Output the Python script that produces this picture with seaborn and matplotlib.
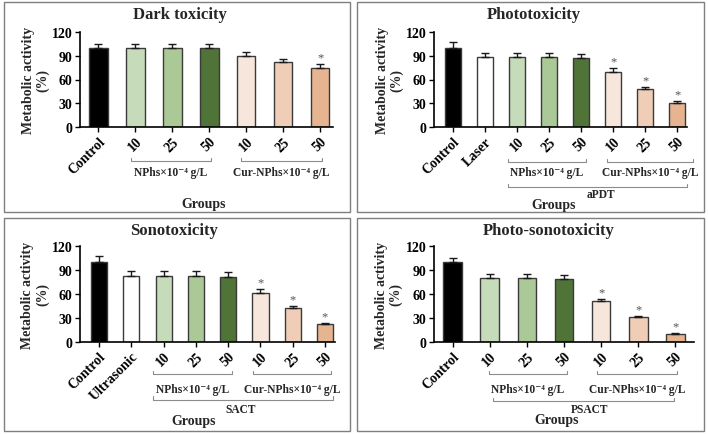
import matplotlib
matplotlib.use("Agg")
import matplotlib.pyplot as plt
import matplotlib.transforms as mtransforms
from matplotlib.patches import Rectangle
import seaborn as sns
import pandas as pd

sns.set_style("white")
plt.rcParams['font.family'] = ['Liberation Serif', 'DejaVu Serif']
plt.rcParams['font.weight'] = 'bold'

# ---------------- data ----------------
dark_keys = ["Control", "N10", "N25", "N50", "C10", "C25", "C50"]
dark_ticks = ["Control", "10", "25", "50", "10", "25", "50"]
dark_vals = [100, 100, 100, 100, 90, 82, 75]
dark_err = [5, 5, 5, 5, 5, 4, 4]
dark_sig = [False, False, False, False, False, False, True]

photo_keys = ["Control", "Laser", "N10", "N25", "N50", "C10", "C25", "C50"]
photo_ticks = ["Control", "Laser", "10", "25", "50", "10", "25", "50"]
photo_vals = [100, 88, 88, 88, 87, 70, 48, 30]
photo_err = [7, 6, 5.5, 5.5, 5.5, 5, 3, 2.5]
photo_sig = [False, False, False, False, False, True, True, True]

sono_keys = ["Control", "Ultrasonic", "N10", "N25", "N50", "C10", "C25", "C50"]
sono_ticks = ["Control", "Ultrasonic", "10", "25", "50", "10", "25", "50"]
sono_vals = [100, 82, 82, 82, 81, 61, 42, 22]
sono_err = [8, 7, 7, 7, 7, 5, 3, 2]
sono_sig = [False, False, False, False, False, True, True, True]

ps_keys = ["Control", "N10", "N25", "N50", "C10", "C25", "C50"]
ps_ticks = ["Control", "10", "25", "50", "10", "25", "50"]
ps_vals = [100, 80, 80, 79, 51, 31, 10]
ps_err = [5, 4.5, 4.5, 4.5, 3, 1.5, 1]
ps_sig = [False, False, False, False, True, True, True]

titles = ["Dark toxicity", "Phototoxicity", "Sonotoxicity", "Photo-sonotoxicity"]
nphs_label = "NPhs×10⁻⁴ g/L"
cur_label = "Cur-NPhs×10⁻⁴ g/L"

c_ctrl = "#000000"
c_white = "#ffffff"
greens = ["#c5e0b4", "#a9d18e", "#4e7d2e"]
peaches = ["#fbe5d6", "#f8cbad", "#f4b183"]

# ---------------- figure ----------------
W, H = 708, 435
fig = plt.figure(figsize=(W / 100, H / 100), dpi=100)

# panel borders (pixels)
for (x0, y0, x1, y1) in [(4, 3, 350, 213), (357, 3, 704, 213),
                         (4, 219, 350, 432), (357, 219, 704, 432)]:
    fig.patches.append(Rectangle((x0 / W, 1 - y1 / H), (x1 - x0) / W, (y1 - y0) / H,
                                 transform=fig.transFigure, fill=False,
                                 edgecolor="#7f7f7f", linewidth=1.0))


def px_rect(l, r, t, b):
    return [l / W, 1 - b / H, (r - l) / W, (b - t) / H]


panels = [
    dict(rect=px_rect(80, 333, 33, 128), keys=dark_keys, ticks=dark_ticks, vals=dark_vals,
         err=dark_err, sig=dark_sig, colors=[c_ctrl] + greens + peaches, xlim=(-0.5, 6.35),
         title=titles[0], tx=0.395, ty=1.19, ylx=-0.174,
         brackets=[(0.88, 3.05, -0.36, nphs_label, -0.47), (3.86, 6.05, -0.36, cur_label, -0.47)],
         outer=None, gx=2.85, gy=-0.81),
    dict(rect=px_rect(434, 687, 33, 128), keys=photo_keys, ticks=photo_ticks, vals=photo_vals,
         err=photo_err, sig=photo_sig, colors=[c_ctrl, c_white] + greens + peaches, xlim=(-0.6, 7.3),
         title=titles[1], tx=0.395, ty=1.19, ylx=-0.174,
         brackets=[(1.7, 4.15, -0.37, nphs_label, -0.47), (4.8, 7.5, -0.37, cur_label, -0.47)],
         outer=(1.7, 7.3, -0.63, "aPDT", 4.6, -0.705), gx=3.15, gy=-0.82),
    dict(rect=px_rect(80, 335, 247, 343), keys=sono_keys, ticks=sono_ticks, vals=sono_vals,
         err=sono_err, sig=sono_sig, colors=[c_ctrl, c_white] + greens + peaches, xlim=(-0.59, 7.31),
         title=titles[2], tx=0.37, ty=1.17, ylx=-0.176,
         brackets=[(1.67, 4.12, -0.333, nphs_label, -0.49), (4.78, 7.19, -0.333, cur_label, -0.49)],
         outer=(1.67, 7.25, -0.60, "SACT", 4.4, -0.70), gx=2.94, gy=-0.82),
    dict(rect=px_rect(434, 694, 247, 343), keys=ps_keys, ticks=ps_ticks, vals=ps_vals,
         err=ps_err, sig=ps_sig, colors=[c_ctrl] + greens + peaches, xlim=(-0.5, 6.5),
         title=titles[3], tx=0.44, ty=1.17, ylx=-0.174,
         brackets=[(0.97, 3.08, -0.333, nphs_label, -0.49), (3.9, 6.03, -0.333, cur_label, -0.49)],
         outer=(1.1, 5.97, -0.615, "PSACT", 3.7, -0.70), gx=2.81, gy=-0.81),
]

bracket_color = "#8c8c8c"

for p in panels:
    ax = fig.add_axes(p["rect"])
    df = pd.DataFrame({"key": p["keys"], "val": p["vals"]})
    sns.barplot(data=df, x="key", y="val", hue="key", order=p["keys"],
                palette=dict(zip(p["keys"], p["colors"])), legend=False,
                width=0.5, edgecolor="#3a3a3a", linewidth=1.0, ax=ax, errorbar=None)
    xs = list(range(len(p["keys"])))
    ax.errorbar(xs, p["vals"], yerr=[[0] * len(xs), p["err"]], fmt="none",
                ecolor="#1a1a1a", elinewidth=1.0, capsize=3, capthick=1.0, zorder=1)
    for x, v, e, s in zip(xs, p["vals"], p["err"], p["sig"]):
        if s:
            ax.annotate("*", (x, v + e), xytext=(0, 0.5), textcoords="offset points",
                        ha="center", va="bottom", fontsize=9, color="#555555",
                        fontweight="normal")
    ax.set_ylim(0, 120)
    ax.set_xlim(*p["xlim"])
    ax.set_yticks([0, 30, 60, 90, 120])
    ax.set_yticklabels(["0", "30", "60", "90", "120"], fontsize=10, fontweight="bold")
    ax.set_xticks(xs)
    ax.set_xticklabels(p["ticks"], rotation=45, ha="right", rotation_mode="anchor",
                       fontsize=10, fontweight="bold")
    ax.set_xlabel("")
    ax.set_ylabel("")
    for sp in ["top", "right"]:
        ax.spines[sp].set_visible(False)
    for sp in ["left", "bottom"]:
        ax.spines[sp].set_color("black")
        ax.spines[sp].set_linewidth(1.2)
    ax.tick_params(axis="both", direction="out", length=3.5, width=1.0, colors="black",
                   pad=2, bottom=True, left=True)
    ax.text(p["ylx"], 0.5, "Metabolic activity\n(%)", transform=ax.transAxes,
            rotation=90, ha="center", va="center", fontsize=10, fontweight="bold",
            linespacing=1.1)
    ax.text(p["tx"], p["ty"], p["title"], transform=ax.transAxes, ha="center", va="center",
            fontsize=12, fontweight="bold")

    trans = mtransforms.blended_transform_factory(ax.transData, ax.transAxes)
    for (x0, x1, yb, lab, yl) in p["brackets"]:
        ax.plot([x0, x0, x1, x1], [yb + 0.035, yb, yb, yb + 0.035], transform=trans,
                color=bracket_color, lw=0.8, clip_on=False)
        ax.text((x0 + x1) / 2, yl, lab, transform=trans, ha="center", va="center",
                fontsize=8.3, fontweight="bold")
    if p["outer"] is not None:
        x0, x1, yb, lab, xl, yl = p["outer"]
        ax.plot([x0, x0, x1, x1], [yb + 0.035, yb, yb, yb + 0.035], transform=trans,
                color=bracket_color, lw=0.8, clip_on=False)
        ax.text(xl, yl, lab, transform=trans, ha="center", va="center",
                fontsize=8.3, fontweight="bold")
    ax.text(p["gx"], p["gy"], "Groups", transform=trans, ha="center", va="center",
            fontsize=10, fontweight="bold")

fig.savefig("out.png", dpi=100)
